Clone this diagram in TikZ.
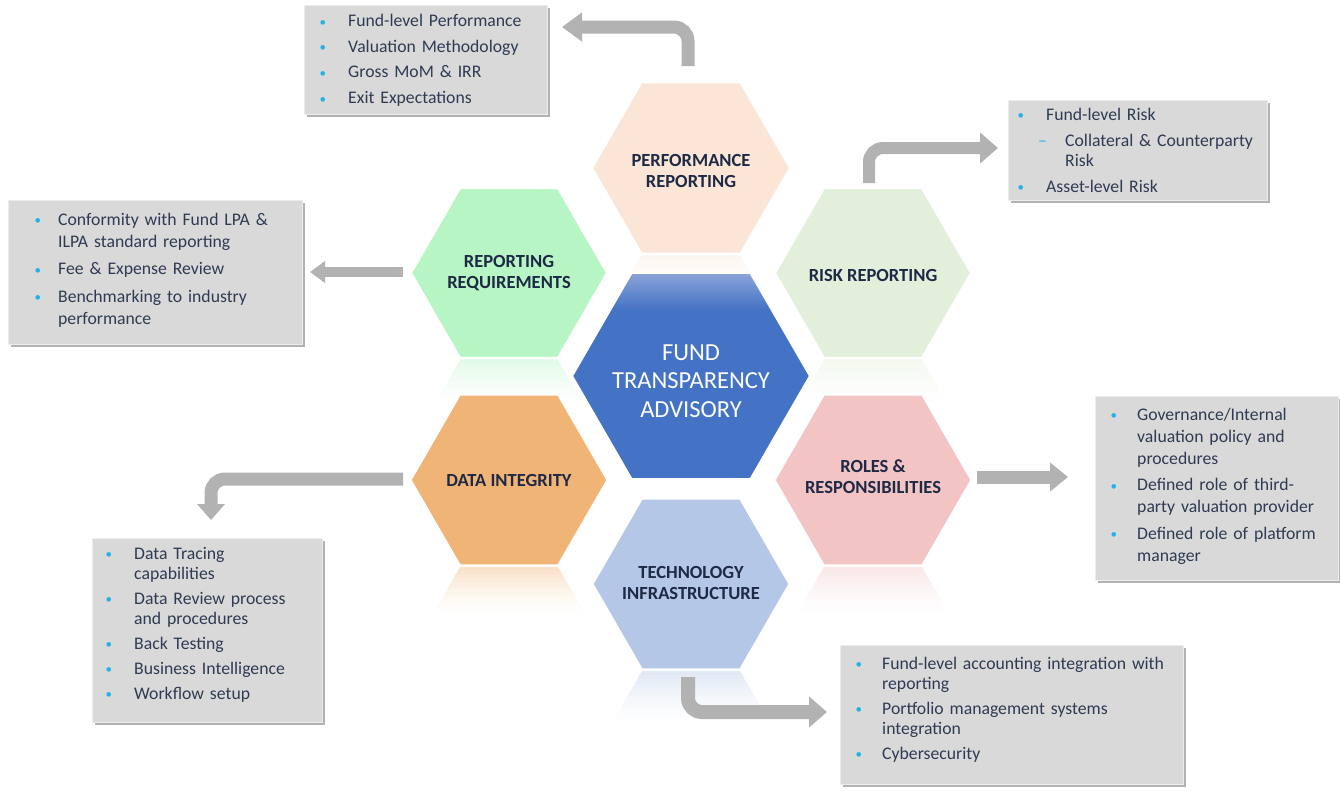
\documentclass[tikz,border=0pt]{standalone}
\usepackage{fontspec}
\setmainfont{Carlito}
\usetikzlibrary{shapes.geometric,arrows.meta,shadows}
\definecolor{perfc}{HTML}{FBE5D6}
\definecolor{reqc}{HTML}{B7F5C5}
\definecolor{riskc}{HTML}{E2EFDA}
\definecolor{centc}{HTML}{4472C4}
\definecolor{centl}{HTML}{8AA3D8}
\definecolor{datac}{HTML}{F1B477}
\definecolor{rolec}{HTML}{F2C4C4}
\definecolor{techc}{HTML}{B4C7E7}
\definecolor{hextext}{HTML}{1E2A45}
\definecolor{boxtext}{HTML}{2E3B52}
\definecolor{boxfill}{HTML}{D9D9D9}
\definecolor{arrowc}{HTML}{B2B2B2}
\definecolor{bulc}{HTML}{22B2E6}
\pgfdeclareverticalshading{centshade}{100bp}{color(0bp)=(centc); color(66bp)=(centc); color(75bp)=(centl); color(100bp)=(centl)}
\newlength\bind \newlength\tind
\newcommand\bitem[1]{\par\hangindent=\tind\hangafter=1\noindent\makebox[\tind][l]{\hspace{\bind}\raisebox{0.5pt}{\textcolor{bulc}{\fontsize{13}{13}\selectfont •}}}\strut#1\par}
\newcommand\sitem[1]{\par\hangindent=57pt\hangafter=1\noindent\makebox[57pt][l]{\hspace{30pt}\textcolor{bulc}{–}}\strut#1\par}
% reflection: cx cy r colour height
\newcommand\refl[5]{%
 \foreach \i in {0,...,11}{%
   \pgfmathsetmacro\ya{#2+0.866*#3+2+\i*#5/12}%
   \pgfmathsetmacro\yb{\ya+#5/12+0.4}%
   \pgfmathsetmacro\wa{#3/2+0.577*\i*#5/12}%
   \pgfmathsetmacro\wb{#3/2+0.577*(\i+1)*#5/12}%
   \pgfmathsetmacro\tt{40*(1-\i/12)^1.4}%
   \fill[#4!\tt!white] ({#1-\wa},\ya) -- ({#1+\wa},\ya) -- ({#1+\wb},\yb) -- ({#1-\wb},\yb) -- cycle;
 }}
\begin{document}
\begin{tikzpicture}[x=1pt,y=-1pt,
  hexa/.style={regular polygon, regular polygon sides=6, inner sep=0pt, draw=white, line width=1.2pt},
  hexlab/.style={inner sep=0pt, font=\fontsize{18.5}{21}\selectfont\bfseries, text=hextext, align=center},
  infobox/.style={anchor=north west, fill=boxfill, draw=white!85!gray, line width=0.6pt, inner sep=0pt,
    drop shadow={shadow xshift=2.5pt, shadow yshift=-3pt, opacity=0.5, fill=black!60}},
  lst/.style={anchor=north west, inner sep=0pt, text width=420pt, text=boxtext, align=left},
  arr/.style={draw=arrowc, line width=13pt, rounded corners=14pt}
]
\useasboundingbox (0,0) rectangle (1340,790);

% reflections
\refl{691}{168}{98.5}{perfc}{30}
\refl{509}{273}{97.5}{reqc}{45}
\refl{873}{273}{97.5}{riskc}{45}
\refl{509}{480}{98}{datac}{45}
\refl{873}{480}{98}{rolec}{45}
\refl{691}{584}{98}{techc}{50}

% hexagons
\node[hexa, minimum size=197pt, fill=perfc] (perf) at (691,168) {};
\node[hexa, minimum size=195pt, fill=reqc] (req) at (509,273) {};
\node[hexa, minimum size=195pt, fill=riskc] (risk) at (873,273) {};
\node[hexa, minimum size=196pt, fill=datac] (data) at (509,480) {};
\node[hexa, minimum size=196pt, fill=rolec] (roles) at (873,480) {};
\node[hexa, minimum size=196pt, fill=techc] (tech) at (691,584) {};
\node[hexa, minimum size=237pt, shade, shading=centshade] (center) at (691,376) {};

\node[hexlab] (perfl) at (691,171) {PERFORMANCE\\REPORTING};
\node[hexlab] (reql) at (509,273.5) {REPORTING\\REQUIREMENTS};
\node[hexlab] (riskl) at (873,275) {RISK REPORTING};
\node[hexlab] (datal) at (509,480) {DATA INTEGRITY};
\node[hexlab] (rolesl) at (873,477) {ROLES \&\\RESPONSIBILITIES};
\node[hexlab] (techl) at (691,583) {TECHNOLOGY\\INFRASTRUCTURE};
\node[hexlab, font=\fontsize{24.5}{28.5}\selectfont, text=white] (centerl) at (691,381) {FUND\\TRANSPARENCY\\ADVISORY};

% info boxes
\node[infobox, minimum width=243pt, minimum height=109pt] (perfbox) at (304,5) {};
\node[infobox, minimum width=259pt, minimum height=100pt] (riskbox) at (1008,100) {};
\node[infobox, minimum width=294pt, minimum height=144pt] (reqbox) at (8,200) {};
\node[infobox, minimum width=230pt, minimum height=184pt] (databox) at (92,538) {};
\node[infobox, minimum width=243pt, minimum height=184pt] (rolesbox) at (1095,396) {};
\node[infobox, minimum width=343pt, minimum height=139pt] (techbox) at (840,645) {};

% lists
\node[lst, font=\fontsize{17.7}{20.5}\selectfont] (perflist) at (304,0.6) {\setlength\parskip{5.2pt}\setlength\bind{15.5pt}\setlength\tind{44pt}%
\bitem{Fund-level Performance}\bitem{Valuation Methodology}\bitem{Gross MoM \& IRR}\bitem{Exit Expectations}};
\node[lst, font=\fontsize{17.7}{20}\selectfont] (risklist) at (1008,94) {\setlength\parskip{6pt}\setlength\bind{9.5pt}\setlength\tind{38pt}%
\bitem{Fund-level Risk}\sitem{Collateral \& Counterparty\newline Risk}\bitem{Asset-level Risk}};
\node[lst, font=\fontsize{17.7}{22}\selectfont] (reqlist) at (8,197.6) {\setlength\parskip{5.5pt}\setlength\bind{26.5pt}\setlength\tind{50pt}%
\bitem{Conformity with Fund LPA \&\newline ILPA standard reporting}\bitem{Fee \& Expense Review}\bitem{Benchmarking to industry\newline performance}};
\node[lst, font=\fontsize{17.7}{20}\selectfont] (datalist) at (92,534) {\setlength\parskip{5pt}\setlength\bind{13.5pt}\setlength\tind{42pt}%
\bitem{Data Tracing\newline capabilities}\bitem{Data Review process\newline and procedures}\bitem{Back Testing}\bitem{Business Intelligence}\bitem{Workflow setup}};
\node[lst, font=\fontsize{17.7}{22}\selectfont] (roleslist) at (1095,393.6) {\setlength\parskip{4.5pt}\setlength\bind{15.5pt}\setlength\tind{42pt}%
\bitem{Governance/Internal\newline valuation policy and\newline procedures}\bitem{Defined role of third-\newline party valuation provider}\bitem{Defined role of platform\newline manager}};
\node[lst, font=\fontsize{17.7}{20}\selectfont] (techlist) at (840,644) {\setlength\parskip{5pt}\setlength\bind{15.5pt}\setlength\tind{42pt}%
\bitem{Fund-level accounting integration with\newline reporting}\bitem{Portfolio management systems\newline integration}\bitem{Cybersecurity}};

% connector end points
\coordinate (a1s) at (688,66);   \coordinate (a1e) at (562,27);
\coordinate (a2s) at (869,183);  \coordinate (a2e) at (998,148);
\coordinate (a3s) at (403,272);  \coordinate (a3e) at (310,272);
\coordinate (a4s) at (403,479);  \coordinate (a4e) at (211,520);
\coordinate (a5s) at (977,477);  \coordinate (a5e) at (1068,477);
\coordinate (a6s) at (688,677);  \coordinate (a6e) at (827,712);

\draw[arr, -{Triangle[width=28pt,length=20pt]}] (a1s) |- (a1e);
\draw[arr, line width=12pt, -{Triangle[width=30pt,length=18pt]}] (a2s) |- (a2e);
\draw[arr, line width=10pt, -{Triangle[width=21pt,length=15pt]}] (a3s) -- (a3e);
\draw[arr, -{Triangle[width=27pt,length=16pt]}] (a4s) -| (a4e);
\draw[arr, -{Triangle[width=28pt,length=18pt]}] (a5s) -- (a5e);
\draw[arr, line width=14pt, -{Triangle[width=30pt,length=18pt]}] (a6s) |- (a6e);
\end{tikzpicture}
\end{document}
